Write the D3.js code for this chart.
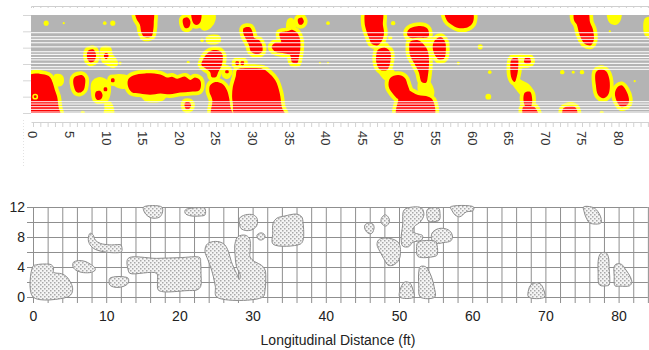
<!DOCTYPE html>
<html>
<head>
<meta charset="utf-8">
<script src="https://cdn.jsdelivr.net/npm/d3@7"></script>
<style>
  body { margin: 0; background: #fff; }
  svg { display: block; font-family: Arial, "Liberation Sans", sans-serif; }
</style>
</head>
<body>
<svg id="chart" width="649" height="350"></svg>
<script>
// ---- data (feet) ----
const topTicks = [0, 5, 10, 15, 20, 25, 30, 35, 40, 45, 50, 55, 60, 65, 70, 75, 80];
const bottomTicks = [0, 10, 20, 30, 40, 50, 60, 70, 80];
const yLabels = [0, 4, 8, 12];
const gridX = [0, 2, 4, 6, 8, 10, 12, 14, 16, 18, 20, 22, 24, 26, 28, 30, 32, 34, 36, 38, 40,
  42, 44, 46, 48, 50, 52, 54, 56, 58, 60, 62, 64, 66, 68, 70, 72, 74, 76, 78, 80, 82, 84];
const gridY = [0, 2, 4, 6, 8, 10, 12];
const footTicks = d3.range(0, 85, 1);

// transverse positions of the white scan lines in the upper map
const scanLines = [9.83, 9.34, 9.02, 8.6, 8.1, 7.5, 7.18, 6.8, 6.5, 6.08, 5.67, 5.35,
  1.38, 1.1, 0.77, 0.45, 0.12];

// red zones of the upper map, outlined in [x ft, y ft]
const redZones = [
  [[-0.5,4.6],[1.6,4.7],[2.3,4.4],[2.7,3.7],[3.0,2.8],[3.3,2.0],[3.5,0.7],[3.7,-0.3],[-0.5,-0.3]],
  [[14.0,12.4],[16.4,12.4],[16.5,11.1],[16.4,10.0],[16.2,9.4],[15.2,9.3],[14.8,9.9],[14.6,10.8],[14.1,11.6]],
  [[20.5,11.5],[21.1,11.7],[21.5,11.2],[21.3,10.5],[20.8,10.4],[20.5,10.9]],
  [[21.7,12.4],[22.9,12.4],[22.9,11.2],[22.5,10.8],[22.0,10.9],[21.7,11.5]],
  [[7.5,7.6],[8.2,7.8],[8.6,7.2],[8.4,6.4],[7.8,6.2],[7.4,6.7]],
  [[9.8,7.3],[10.2,7.3],[10.3,6.9],[10.0,6.6],[9.7,6.9]],
  [[5.7,4.4],[6.65,4.65],[7.1,4.25],[7.1,3.4],[6.9,2.8],[6.4,2.5],[5.9,2.6],[5.6,3.2],[5.5,4.0]],
  [[8.6,2.6],[9.2,2.7],[9.5,2.2],[9.3,1.7],[8.8,1.6],[8.5,2.0]],
  [[9.7,3.1],[10.1,3.1],[10.1,2.7],[9.7,2.7]],
  [[10.7,4.2],[11.1,4.2],[11.1,3.8],[10.7,3.8]],
  [[13.0,4.1],[13.7,4.6],[15.3,4.85],[17.4,4.7],[18.3,4.35],[19.0,4.45],[19.7,4.2],[20.8,4.45],[21.5,4.05],
   [22.1,4.35],[22.8,4.05],[22.95,3.4],[22.7,2.75],[21.5,2.6],[20.1,2.5],[18.7,2.3],[17.4,2.4],[16.0,2.25],
   [14.6,2.4],[13.5,2.55],[13.0,3.2]],
  [[20.8,1.3],[21.4,1.3],[21.6,0.9],[21.3,0.5],[20.9,0.5],[20.7,0.9]],
  [[23.2,6.5],[23.8,7.3],[24.6,7.7],[25.5,7.6],[25.9,7.1],[25.8,5.9],[25.3,5.0],[25.0,4.4],[24.4,4.4],
   [24.2,5.0],[23.5,5.5],[23.0,5.9]],
  [[26.3,5.2],[26.7,5.2],[26.7,4.9],[26.3,4.9]],
  [[24.2,3.4],[24.9,3.8],[25.8,3.6],[26.5,2.8],[26.8,1.8],[27.0,0.6],[27.3,-0.3],[24.4,-0.3],[24.5,1.6],[24.1,2.6]],
  [[27.9,5.3],[29.0,5.5],[30.3,5.5],[31.4,5.4],[32.1,5.0],[33.1,4.0],[33.7,2.45],[34.0,0.7],[34.4,-0.3],
   [27.6,-0.3],[27.3,1.2],[27.2,2.0],[27.3,3.2],[27.7,4.5]],
  [[27.7,6.3],[28.1,6.3],[28.1,5.9],[27.7,5.9]],
  [[28.4,6.3],[28.8,6.3],[28.8,5.9],[28.4,5.9]],
  [[28.8,10.4],[29.6,10.5],[30.0,9.9],[30.2,9.2],[30.9,8.9],[31.3,8.3],[31.3,7.5],[30.6,7.2],[29.8,7.5],
   [29.5,8.3],[29.0,9.2],[28.7,9.9]],
  [[33.7,9.8],[34.7,10.0],[35.4,10.2],[36.1,9.8],[36.5,8.9],[36.5,7.7],[36.3,6.7],[36.1,6.1],[35.4,6.2],
   [35.1,7.1],[34.4,7.3],[33.1,7.5],[32.6,8.1],[33.1,8.6],[33.9,8.7],[33.7,9.3]],
  [[36.2,11.5],[36.7,11.7],[37.0,11.2],[36.7,10.8],[36.3,10.9]],
  [[45.5,12.4],[47.7,12.4],[47.8,10.8],[47.95,9.8],[47.7,8.9],[47.1,8.3],[46.3,8.45],[45.9,9.2],[45.5,10.2],[45.3,11.1]],
  [[47.1,7.7],[48.1,8.0],[48.8,7.5],[48.8,6.2],[48.4,5.3],[47.4,5.3],[46.9,6.2],[46.9,7.1]],
  [[48.8,4.3],[49.9,4.65],[50.8,4.3],[51.2,3.4],[51.5,2.45],[51.2,1.6],[50.1,1.6],[49.3,2.2],[48.6,3.2]],
  [[50.1,2.6],[51.2,2.8],[52.6,2.2],[54.0,2.0],[54.6,1.6],[54.8,-0.3],[49.7,-0.3],[49.9,1.6]],
  [[51.4,10.3],[52.9,10.65],[53.8,10.4],[54.1,9.8],[53.96,9.3],[52.6,9.2],[51.5,9.2],[51.1,9.7]],
  [[51.5,8.7],[52.6,8.9],[53.55,8.2],[53.96,7.5],[54.1,6.2],[53.96,4.65],[53.7,3.7],[53.1,3.8],[52.7,5.0],
   [52.0,6.2],[51.5,7.1],[51.4,8.1]],
  [[54.9,8.9],[55.7,9.3],[56.3,8.7],[56.4,7.7],[56.2,6.7],[55.5,6.5],[54.9,7.1],[54.6,8.1]],
  [[56.3,12.4],[60.0,12.4],[60.1,11.1],[59.4,10.5],[58.1,10.4],[57.2,10.8],[56.5,11.4]],
  [[65.4,6.6],[66.2,6.7],[66.3,5.8],[66.1,4.5],[65.8,3.8],[65.4,4.2],[65.2,5.5]],
  [[67.2,6.7],[67.9,6.7],[68.0,6.2],[67.5,6.0],[67.1,6.2]],
  [[67.2,2.5],[67.9,2.6],[68.2,1.6],[68.0,0.8],[67.3,0.8],[67.0,1.6]],
  [[67.0,0.8],[68.4,0.8],[68.9,0.2],[69.0,-0.3],[67.0,-0.3]],
  [[72.4,0.5],[72.9,0.8],[73.9,0.8],[74.3,0.4],[74.3,-0.3],[72.4,-0.3]],
  [[74.0,12.4],[75.8,12.4],[76.1,11.1],[76.5,10.2],[76.6,8.9],[76.2,8.3],[75.4,8.45],[74.7,9.5],[74.3,10.8],[73.9,11.4]],
  [[76.9,5.0],[77.6,5.4],[78.3,5.1],[78.7,4.3],[78.8,3.1],[78.55,2.2],[77.9,1.8],[77.2,2.2],[76.9,3.4]],
  [[79.9,3.2],[80.4,3.4],[81.0,2.8],[81.4,1.8],[81.3,1.1],[80.4,0.7],[79.8,1.35],[79.5,2.45]]
];

// yellow-only zones of the upper map
const yellowZones = [
  [[3.0,4.6],[3.8,4.6],[4.1,4.0],[3.8,3.4],[3.1,3.5]],
  [[22.6,12.4],[24.6,12.4],[24.8,11.4],[24.2,10.5],[23.4,10.2],[22.8,10.7]],
  [[9.4,8.0],[10.5,8.0],[10.8,7.1],[11.2,6.7],[11.5,6.0],[10.9,5.6],[10.2,5.9],[9.6,6.2],[9.3,7.1]],
  [[8.15,3.8],[8.9,4.25],[9.85,4.1],[10.4,3.6],[10.5,2.6],[10.15,1.6],[9.4,1.25],[8.7,1.4],[8.25,2.0],[8.0,3.0]],
  [[9.9,1.3],[10.5,1.3],[10.9,0.6],[10.9,-0.3],[9.8,-0.3],[9.9,0.6]],
  [[14.8,2.5],[18.2,2.5],[17.8,1.7],[16.5,1.4],[15.3,1.6]],
  [[11.0,4.5],[12.5,4.6],[13.3,4.2],[13.2,3.3],[12.0,3.1],[11.0,3.6]],
  [[26.0,5.7],[26.8,5.6],[27.0,4.9],[26.6,4.3],[26.0,4.5]],
  [[23.8,9.3],[25.4,9.4],[25.5,8.8],[24.5,8.5],[23.8,8.7]],
  [[34.9,11.4],[35.4,11.5],[35.8,10.5],[35.6,9.8],[34.8,9.9]],
  [[47.1,8.5],[48.3,8.5],[48.6,7.6],[47.3,7.6]],
  [[47.2,5.4],[48.9,5.4],[49.6,4.3],[48.6,3.9],[47.6,4.6]],
  [[52.8,3.8],[54.0,3.9],[54.7,2.5],[54.3,1.8],[53.0,2.0]],
  [[53.0,9.3],[54.2,9.3],[54.4,8.5],[53.2,8.5]],
  [[65.2,6.9],[68.2,6.9],[68.3,6.0],[66.3,5.6],[65.2,6.0]],
  [[65.7,4.4],[66.7,3.9],[67.7,3.4],[68.3,2.4],[68.0,1.6],[67.0,2.0],[66.2,2.8],[65.6,3.6]],
  [[78.6,12.4],[80.2,12.4],[80.1,11.3],[79.5,10.9],[78.8,11.2]],
  [[83.7,11.5],[84.6,11.6],[84.6,9.2],[83.7,9.6],[83.5,10.5]]
];

// small yellow spots [x ft, y ft, radius ft]
const yellowDots = [
  [1.8,11.0,0.35],[4.2,11.0,0.15],[9.8,11.0,0.25],[10.9,11.0,0.35],[11.9,6.1,0.2],[6.8,0,0.3],
  [21.2,6.2,0.2],[23.1,8.9,0.25],[40.3,11.0,0.25],[39.2,6.1,0.15],[40.3,6.1,0.15],[49.2,11.0,0.3],
  [48.8,9.2,0.3],[61.1,8.1,0.35],[58.1,6.1,0.2],[62.4,5.0,0.25],[62.2,2.0,0.4],[72.3,5.0,0.3],
  [73.8,5.0,0.2],[75.0,5.0,0.3],[77.7,0,0.3],[78.8,10.0,0.15],[82.2,3.9,0.15]
];
const innerDots = [[0.3,2.0,0.3]];

// hatched zones of the lower plan
const hatchZones = [
  [[0,4.1],[0.5,4.3],[1.6,4.4],[2.5,4.3],[2.8,3.9],[2.8,3.3],[3.9,3.1],[4.6,2.7],[5.1,2.0],[5.4,1.3],[5.3,0.5],[4.7,0],[0,0]],
  [[5.5,4.6],[6.2,4.85],[7.1,4.75],[7.8,4.4],[8.4,3.95],[8.5,3.6],[8.0,3.3],[6.9,3.25],[6.0,3.5],[5.5,3.95]],
  [[7.8,8.5],[8.2,8.3],[8.5,7.6],[9.2,7.15],[10.5,6.95],[12.0,6.95],[12.1,6.8],[12.1,6.05],[11.0,5.9],[9.6,6.05],[8.5,6.35],[7.8,6.95],[7.55,7.7]],
  [[10.5,2.5],[11.2,2.7],[12.3,2.7],[13.0,2.5],[13.0,1.85],[12.3,1.4],[11.2,1.3],[10.5,1.6],[10.4,2.15]],
  [[13.0,5.15],[16.9,5.15],[20.1,5.25],[22.8,5.25],[22.9,4.7],[22.95,3.15],[22.9,1.4],[22.4,0.95],[21.0,0.85],
   [17.8,0.7],[17.1,0.95],[17.0,2.05],[16.9,3.15],[13.25,3.15],[13.0,3.6]],
  [[15.1,12.0],[17.6,12.0],[17.7,11.35],[17.35,10.7],[16.7,10.5],[16.0,10.6],[15.4,11.05],[15.1,11.6]],
  [[20.8,11.6],[21.7,11.85],[23.3,11.9],[23.5,11.8],[23.5,10.95],[22.8,10.8],[21.4,10.85],[20.8,11.15]],
  [[23.7,6.95],[24.4,7.35],[25.5,7.35],[26.2,6.95],[26.7,6.05],[27.1,4.7],[27.8,3.15],[28.2,2.35],[28.3,2.95],
   [27.8,4.05],[27.6,5.6],[27.6,7.15],[28.0,8.05],[28.95,8.25],[29.55,7.85],[29.7,7.15],[29.65,6.05],[29.65,5.35],
   [30.3,4.7],[31.2,4.25],[31.7,3.6],[31.8,2.25],[31.7,0.95],[31.4,0],[25.1,0],[24.9,1.45],[24.4,3.6],[23.9,4.95],[23.5,6.05]],
  [[28.2,10.5],[29.0,10.95],[30.1,10.95],[30.6,10.5],[30.6,9.6],[30.1,9.05],[29.2,8.85],[28.4,9.15],[28.2,9.85]],
  [[30.6,8.25],[31.1,8.55],[31.55,8.4],[31.7,7.95],[31.2,7.6],[30.8,7.7]],
  [[32.8,9.85],[33.3,10.5],[34.4,10.8],[36.0,11.05],[36.7,10.7],[36.9,9.85],[36.9,7.6],[36.5,7.05],[32.8,7.05],[32.75,8.5]],
  [[45.35,9.6],[45.8,9.85],[46.4,9.75],[46.6,9.3],[46.3,8.5],[45.8,8.5],[45.35,9.05]],
  [[47.6,10.5],[48.1,10.95],[48.5,10.7],[48.7,10.05],[48.2,9.45],[47.6,9.85]],
  [[47.2,7.6],[47.9,7.85],[49.2,7.7],[50.0,7.15],[50.2,6.05],[50.0,4.95],[49.2,4.25],[48.5,4.25],[47.9,5.15],[47.4,6.05],[47.0,6.95]],
  [[50.7,11.6],[51.9,12.0],[53.1,11.85],[53.4,10.95],[52.9,10.0],[52.1,9.4],[51.9,8.7],[52.6,8.4],[53.2,8.2],
   [53.1,7.6],[51.9,7.3],[51.3,6.7],[50.5,6.8],[50.3,7.85],[50.5,9.6]],
  [[53.9,11.7],[55.4,11.85],[55.6,11.15],[55.5,10.25],[54.7,10.05],[54.0,10.15],[53.8,10.95]],
  [[54.5,8.5],[55.2,9.05],[56.05,9.15],[56.9,8.85],[57.3,8.15],[57.1,7.5],[56.05,7.25],[55.2,7.15],[54.5,7.6]],
  [[52.6,7.3],[55.0,7.4],[55.2,6.9],[55.2,5.6],[54.8,5.4],[52.6,5.4],[52.4,6.5]],
  [[50.1,0],[50.3,1.35],[50.8,2.0],[51.5,1.85],[51.9,0.95],[52.05,0]],
  [[52.9,4.05],[53.6,4.05],[54.0,3.6],[54.5,2.5],[54.8,1.35],[54.9,0],[52.9,0],[52.7,1.6],[52.7,3.35]],
  [[57.0,12.0],[60.2,12.0],[60.1,11.5],[59.2,11.35],[58.3,10.7],[57.65,10.95],[57.2,11.6]],
  [[67.7,0.95],[68.0,1.6],[68.6,1.9],[69.3,1.75],[69.7,1.15],[69.9,0],[67.7,0]],
  [[75.2,12.0],[76.3,12.0],[77.0,11.6],[77.6,10.5],[77.55,9.85],[76.1,9.85],[75.6,10.5],[75.3,11.35]],
  [[77.4,5.6],[77.7,5.9],[78.3,5.9],[78.6,5.35],[78.7,4.05],[78.7,1.6],[78.4,1.5],[77.4,1.6],[77.2,3.35],[77.2,4.7]],
  [[79.4,4.05],[79.7,4.4],[80.4,4.35],[81.0,3.6],[81.6,2.7],[81.8,1.95],[81.5,1.5],[80.2,1.45],[79.5,1.5],[79.4,2.7]]
];

// ---- scales ----
const svg = d3.select('#chart');
const x = d3.scaleLinear().domain([0, 80]).range([33, 618.6]);
const yTop = d3.scaleLinear().domain([0, 12]).range([113, 15]);
const yBot = d3.scaleLinear().domain([0, 12]).range([297, 207]);
const pxPerFt = x(1) - x(0);
const xEnd = 649;

// ---- upper map ----
svg.append('clipPath').attr('id', 'mapClip')
  .append('rect')
  .attr('x', x(-0.27)).attr('y', yTop(12))
  .attr('width', xEnd - x(-0.27)).attr('height', yTop(0) - yTop(12));

const map = svg.append('g').attr('clip-path', 'url(#mapClip)');
map.append('rect')
  .attr('x', x(-0.27)).attr('y', yTop(12))
  .attr('width', xEnd - x(-0.27)).attr('height', yTop(0) - yTop(12))
  .attr('fill', '#b4b4b4');

const blob = d3.line()
  .x(d => x(d[0])).y(d => yTop(d[1]))
  .curve(d3.curveCatmullRomClosed.alpha(0.5));

map.append('g').selectAll('path').data(redZones).enter().append('path')
  .attr('d', blob)
  .attr('fill', '#ffff00').attr('stroke', '#ffff00')
  .attr('stroke-width', 7.5).attr('stroke-linejoin', 'round');

map.append('g').selectAll('path').data(yellowZones).enter().append('path')
  .attr('d', blob)
  .attr('fill', '#ffff00').attr('stroke', '#ffff00')
  .attr('stroke-width', 2).attr('stroke-linejoin', 'round');

map.append('g').selectAll('circle').data(yellowDots).enter().append('circle')
  .attr('cx', d => x(d[0])).attr('cy', d => yTop(d[1]))
  .attr('r', d => d[2] * pxPerFt)
  .attr('fill', '#ffff00');

map.append('g').selectAll('path').data(redZones).enter().append('path')
  .attr('d', blob)
  .attr('fill', '#ff0000');

map.append('g').selectAll('circle').data(innerDots).enter().append('circle')
  .attr('cx', d => x(d[0])).attr('cy', d => yTop(d[1]))
  .attr('r', d => d[2] * pxPerFt)
  .attr('fill', 'none').attr('stroke', '#ffff00').attr('stroke-width', 1.5);

map.append('g').selectAll('line').data(scanLines).enter().append('line')
  .attr('x1', x(-0.27)).attr('x2', xEnd)
  .attr('y1', d => yTop(d)).attr('y2', d => yTop(d))
  .attr('stroke', '#ffffff').attr('stroke-width', 1);

// faint frame ticks of the upper map
const xFrame = d3.scaleLinear().domain([-0.27, 84.2]).range([x(-0.27), x(84.2)]);

const topRow = svg.append('g').attr('transform', 'translate(0,6)')
  .call(d3.axisBottom(xFrame).tickValues(footTicks).tickSize(2).tickFormat(''));
topRow.selectAll('line, path').attr('stroke', '#cfcfcf');

const footRow = svg.append('g').attr('transform', 'translate(0,122)')
  .call(d3.axisBottom(xFrame).tickValues(footTicks).tickSize(5).tickSizeOuter(0).tickFormat(''));
footRow.selectAll('line, path').attr('stroke', '#d2d2d2');

const leftRow = svg.append('g').attr('transform', `translate(${x(-0.27)},0)`)
  .call(d3.axisLeft(yTop).tickValues(gridY).tickSize(8).tickFormat(''));
leftRow.select('.domain').remove();
leftRow.selectAll('line').attr('stroke', '#d6d6d6');

svg.append('line')
  .attr('x1', 23.5).attr('x2', 23.5).attr('y1', 120).attr('y2', 168)
  .attr('stroke', '#e2e2e2').attr('stroke-dasharray', '1,2');

svg.append('g').selectAll('text').data(topTicks).enter().append('text')
  .attr('transform', d => `translate(${x(d)},131) rotate(90)`)
  .attr('dy', '0.35em')
  .attr('font-size', 13).attr('fill', '#333')
  .text(d => d);

// ---- lower plan ----
const gridV = svg.append('g').attr('transform', `translate(0,${yBot(12)})`)
  .call(d3.axisBottom(x).tickValues(gridX).tickSize(yBot(0) - yBot(12) + 6).tickFormat(''));
gridV.select('.domain').remove();
gridV.selectAll('line').attr('stroke', '#8f8f8f');

const gridH = svg.append('g').attr('transform', `translate(${x(0) - 6},0)`)
  .call(d3.axisRight(yBot).tickValues(gridY).tickSize(x(84) - x(0) + 6).tickFormat(''));
gridH.select('.domain').remove();
gridH.selectAll('line').attr('stroke', '#8f8f8f');

const defs = svg.append('defs');
const pat = defs.append('pattern').attr('id', 'hatch')
  .attr('patternUnits', 'userSpaceOnUse').attr('width', 4).attr('height', 4);
pat.append('rect').attr('width', 4).attr('height', 4).attr('fill', '#f4f4f4');
pat.append('rect').attr('x', 0).attr('y', 0).attr('width', 1.5).attr('height', 1.5).attr('fill', '#a8a8a8');
pat.append('rect').attr('x', 2).attr('y', 2).attr('width', 1.5).attr('height', 1.5).attr('fill', '#a8a8a8');

const plan = d3.line()
  .x(d => x(d[0])).y(d => yBot(d[1]))
  .curve(d3.curveCatmullRomClosed.alpha(0.5));

svg.append('g').selectAll('path').data(hatchZones).enter().append('path')
  .attr('d', plan)
  .attr('fill', 'url(#hatch)')
  .attr('stroke', '#8c8c8c').attr('stroke-width', 1);

const xAxis = svg.append('g').attr('transform', `translate(0,${yBot(0) + 6})`)
  .call(d3.axisBottom(x).tickValues(bottomTicks).tickSize(0).tickPadding(8));
xAxis.select('.domain').remove();
xAxis.selectAll('text').attr('font-size', 14).attr('fill', '#222')
  .attr('font-family', 'Arial, "Liberation Sans", sans-serif');

const yAxis = svg.append('g').attr('transform', `translate(${x(0) - 6},0)`)
  .call(d3.axisLeft(yBot).tickValues(yLabels).tickSize(0).tickPadding(2));
yAxis.select('.domain').remove();
yAxis.selectAll('text').attr('font-size', 14).attr('fill', '#222')
  .attr('font-family', 'Arial, "Liberation Sans", sans-serif');

svg.append('text')
  .attr('x', 338).attr('y', 345)
  .attr('text-anchor', 'middle')
  .attr('font-size', 14).attr('fill', '#222')
  .text('Longitudinal Distance (ft)');
</script>
</body>
</html>
